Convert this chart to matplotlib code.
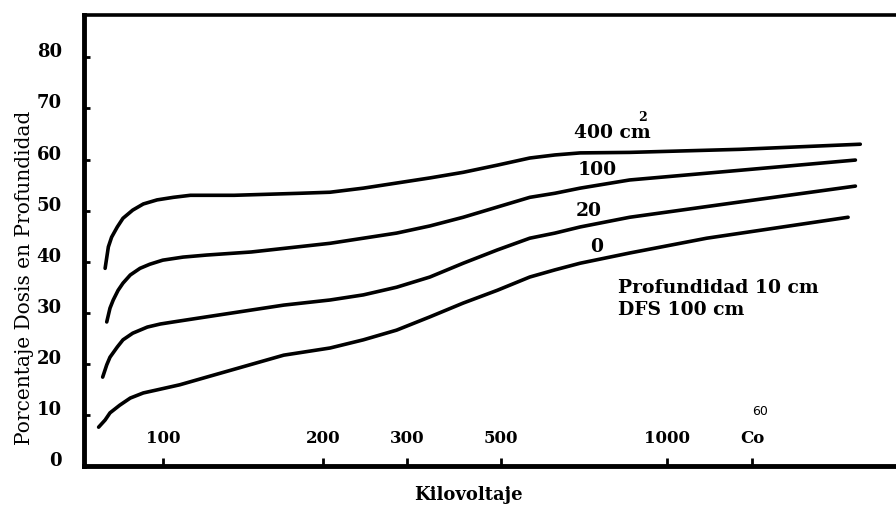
import matplotlib.pyplot as plt
from matplotlib.transforms import ScaledTranslation

# -----------------------------
# DATA (x = position along the kV scale, 0-100)
# -----------------------------
x_400 = [2.6, 3.0, 3.4, 4.1, 4.8, 6.0, 7.3, 9.0, 11.0, 13.1, 18.5, 26.7, 30.3,
         34.4, 38.5, 42.6, 46.7, 50.9, 54.9, 58.0, 61.1, 67.2, 80.8, 95.6]
y_400 = [38.7, 42.9, 44.8, 46.8, 48.5, 50.1, 51.3, 52.1, 52.6, 53.0, 53.0, 53.4, 53.6,
         54.4, 55.4, 56.4, 57.5, 58.9, 60.3, 60.9, 61.3, 61.4, 62.0, 63.0]

x_100 = [2.8, 3.2, 3.6, 4.2, 4.8, 5.7, 6.9, 8.1, 9.7, 12.2, 15.1, 20.6, 30.3,
         34.4, 38.5, 42.6, 46.7, 50.9, 54.9, 58.0, 61.1, 67.2, 80.8, 95.0]
y_100 = [28.2, 30.9, 32.5, 34.4, 35.8, 37.4, 38.7, 39.5, 40.3, 40.9, 41.3, 41.9, 43.6,
         44.6, 45.6, 47.0, 48.7, 50.7, 52.6, 53.4, 54.4, 56.0, 57.9, 59.9]

x_20 = [2.3, 2.8, 3.2, 4.1, 4.8, 6.0, 7.8, 9.4, 11.0, 15.1, 24.6, 30.3,
        34.4, 38.5, 42.6, 46.7, 50.9, 54.9, 58.0, 61.1, 67.2, 80.8, 95.0]
y_20 = [17.4, 19.8, 21.3, 23.3, 24.7, 26.0, 27.2, 27.8, 28.2, 29.2, 31.5, 32.5,
        33.5, 35.0, 37.0, 39.7, 42.3, 44.6, 45.6, 46.8, 48.7, 51.7, 54.8]

x_0 = [1.8, 2.6, 3.2, 4.4, 5.7, 7.3, 9.0, 11.8, 15.1, 24.6, 30.3,
       34.4, 38.5, 42.6, 46.7, 50.9, 54.9, 58.0, 61.1, 67.2, 76.7, 94.1]
y_0 = [7.6, 9.0, 10.4, 11.9, 13.3, 14.3, 14.9, 15.9, 17.4, 21.7, 23.1,
       24.7, 26.6, 29.2, 31.9, 34.4, 37.0, 38.4, 39.7, 41.7, 44.6, 48.7]

x_ticks = [9.7, 29.4, 39.8, 51.3, 71.8, 82.3]
x_labels = ["100", "200", "300", "500", "1000", "Co"]
y_ticks = [0, 10, 20, 30, 40, 50, 60, 70, 80]

# -----------------------------
# PLOT
# -----------------------------
fig = plt.figure(figsize=(8.96, 5.07), dpi=100)
ax = fig.add_axes([0.09375, 0.0809, 0.90625, 0.8895])

for xs, ys in [(x_400, y_400), (x_100, y_100), (x_20, y_20), (x_0, y_0)]:
    ax.plot(xs, ys, color="black", lw=2.6, solid_capstyle="round", solid_joinstyle="round")

ax.set_xlim(0, 100)
ax.set_ylim(0, 88.3)

ax.spines["right"].set_visible(False)
ax.spines["top"].set_linewidth(2.6)
ax.spines["left"].set_linewidth(3.5)
ax.spines["bottom"].set_linewidth(3.5)

ax.set_xticks(x_ticks)
ax.set_xticklabels(x_labels, fontfamily="DejaVu Serif", fontweight="bold", fontsize=12)
ax.tick_params(axis="x", direction="in", length=6, width=2, pad=-26)

ax.set_yticks(y_ticks)
ax.set_yticklabels([str(v) for v in y_ticks], fontfamily="DejaVu Serif",
                   fontweight="bold", fontsize=13)
ax.tick_params(axis="y", direction="in", length=4, width=2, pad=16)
for lab in ax.get_yticklabels():
    lab.set_transform(lab.get_transform() + ScaledTranslation(0, 0.07, fig.dpi_scale_trans))

ax.text(83.3, 10.6, "60", fontfamily="DejaVu Sans", fontsize=9, ha="center", va="center")

ax.set_xlabel("Kilovoltaje", fontfamily="DejaVu Serif", fontweight="bold", fontsize=13)
ax.xaxis.label.set_va("center")
ax.xaxis.set_label_coords(0.474, -0.065)
ax.set_ylabel("Porcentaje Dosis en Profundidad", fontfamily="DejaVu Serif", fontsize=14.5)
ax.yaxis.set_label_coords(-0.062, 0.417)

lbl = dict(fontfamily="DejaVu Serif", fontweight="bold", fontsize=13.5, va="center")
ax.text(65.1, 65.2, "400 cm", ha="center", **lbl)
ax.text(68.8, 68.3, "2", ha="center", fontfamily="DejaVu Serif", fontweight="bold",
        fontsize=9, va="center")
ax.text(63.2, 57.9, "100", ha="center", **lbl)
ax.text(62.1, 49.9, "20", ha="center", **lbl)
ax.text(63.1, 42.9, "0", ha="center", **lbl)
ax.text(65.8, 34.8, "Profundidad 10 cm", ha="left", **lbl)
ax.text(65.8, 30.5, "DFS 100 cm", ha="left", **lbl)

fig.savefig("out.png", dpi=100)
